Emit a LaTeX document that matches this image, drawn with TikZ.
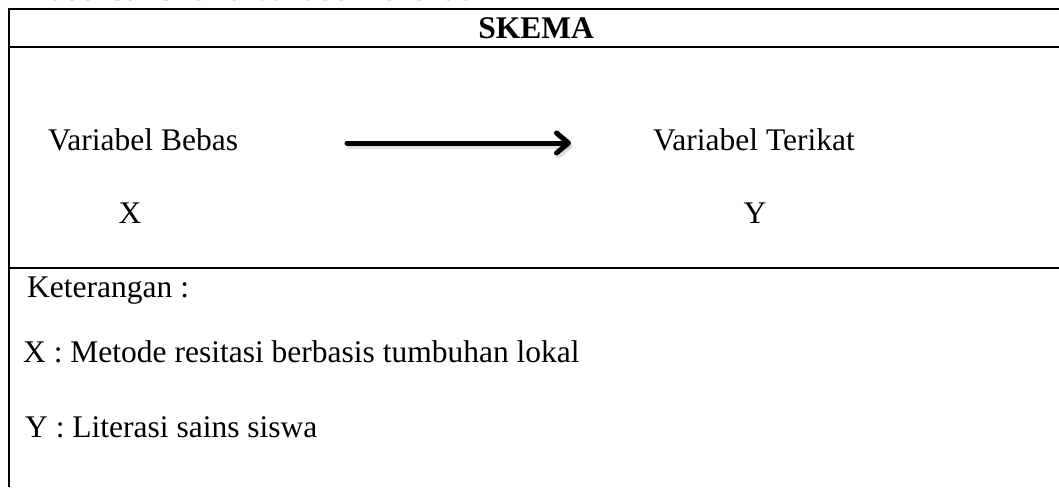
\documentclass[tikz,border=0pt]{standalone}
\usepackage{fontspec}
\setmainfont{Liberation Serif}
\usetikzlibrary{arrows.meta}
\tikzset{
  txt/.style={inner sep=0pt, anchor=base west, font=\fontsize{31.5}{36}\selectfont},
  hdr/.style={inner sep=0pt, anchor=base, font=\fontsize{31.5}{36}\selectfont\bfseries},
  rule/.style={line width=2pt},
  bigarrow/.style={line width=5pt, line cap=round, -{Straight Barb[length=12pt,width=20pt,line cap=round,line join=round]}},
  shadowarrow/.style={bigarrow, draw=black!35, opacity=0.35}
}
\begin{document}
\begin{tikzpicture}[x=1pt,y=-1pt]
\useasboundingbox (0,0) rectangle (1059,487);
\clip (0,0) rectangle (1059,487);
% caption (cut off at the top, as in the reference)
\node[txt, text=black!55] (cap) at (33,1) {Tabel 3.1 Skema Variabel Penelitian};
% frame
\draw[rule] (1059,9.3) -- (9,9.3) -- (9,487);
\draw[rule] (9,46.7) -- (1059,46.7);
\draw[rule] (9,268) -- (1059,268);
% header
\node[hdr] (skema) at (536,38) {SKEMA};
% schema
\node[txt] (vb) at (48,150) {Variabel Bebas};
\node[txt] (vt) at (653,150) {Variabel Terikat};
\node[txt, anchor=base] (x) at (130,223) {X};
\node[txt, anchor=base] (y) at (755,223) {Y};
\coordinate (a1) at (347,143);
\coordinate (a2) at (571,143);
\coordinate (s1) at (349,146);
\coordinate (s2) at (573,146);
\draw[shadowarrow] (s1) -- (s2);
\draw[bigarrow] (a1) -- (a2);
% legend
\node[txt] (ket) at (27,297) {Keterangan :};
\node[txt] (kx) at (23,362) {X : Metode resitasi berbasis tumbuhan lokal};
\node[txt] (ky) at (25,437) {Y : Literasi sains siswa};
\end{tikzpicture}
\end{document}
